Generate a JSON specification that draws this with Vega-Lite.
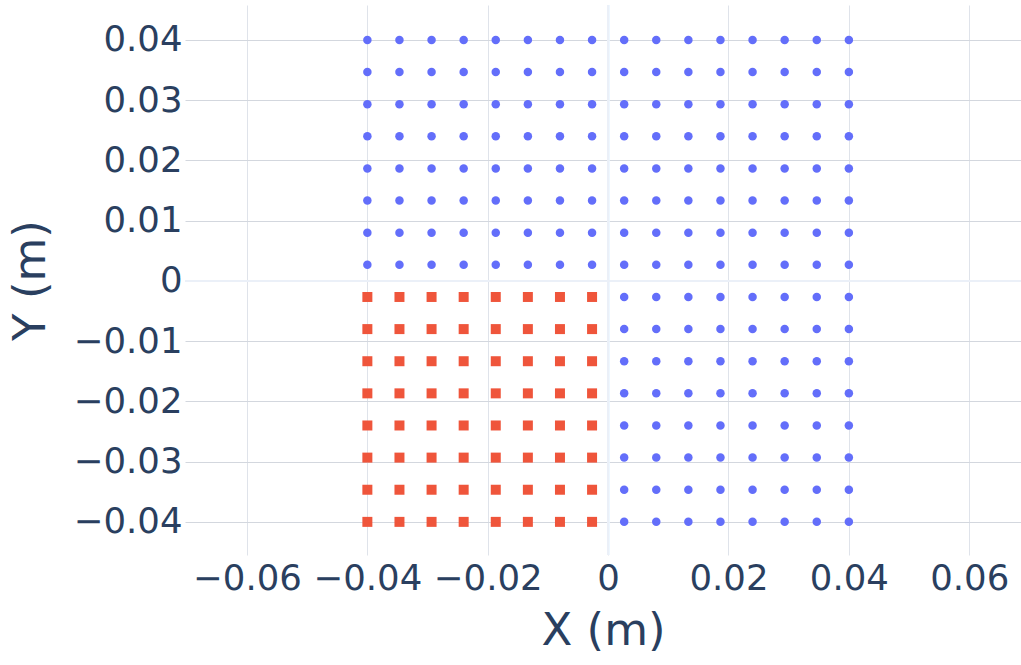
{
  "$schema": "https://vega.github.io/schema/vega-lite/v6.json",
  "width": 836,
  "height": 550,
  "autosize": {"type": "none"},
  "padding": {"left": 185, "top": 5, "right": 0, "bottom": 110},
  "background": "white",
  "config": {
    "view": {"stroke": null},
    "font": "DejaVu Sans",
    "axis": {
      "domain": false,
      "ticks": false,
      "grid": true,
      "gridWidth": 1,
      "labelFont": "DejaVu Sans",
      "labelFontSize": 35.5,
      "labelColor": "#2a3f5f",
      "titleFont": "DejaVu Sans",
      "titleFontSize": 45,
      "titleFontWeight": "normal",
      "titleColor": "#2a3f5f"
    }
  },
  "data": {
    "values": [
      {"x": -0.04, "y": 0.04, "g": "b"}, {"x": -0.034667, "y": 0.04, "g": "b"}, {"x": -0.029333, "y": 0.04, "g": "b"}, {"x": -0.024, "y": 0.04, "g": "b"}, {"x": -0.018667, "y": 0.04, "g": "b"}, {"x": -0.013333, "y": 0.04, "g": "b"}, {"x": -0.008, "y": 0.04, "g": "b"}, {"x": -0.002667, "y": 0.04, "g": "b"}, {"x": 0.002667, "y": 0.04, "g": "b"}, {"x": 0.008, "y": 0.04, "g": "b"}, {"x": 0.013333, "y": 0.04, "g": "b"}, {"x": 0.018667, "y": 0.04, "g": "b"}, {"x": 0.024, "y": 0.04, "g": "b"}, {"x": 0.029333, "y": 0.04, "g": "b"}, {"x": 0.034667, "y": 0.04, "g": "b"}, {"x": 0.04, "y": 0.04, "g": "b"},
      {"x": -0.04, "y": 0.034667, "g": "b"}, {"x": -0.034667, "y": 0.034667, "g": "b"}, {"x": -0.029333, "y": 0.034667, "g": "b"}, {"x": -0.024, "y": 0.034667, "g": "b"}, {"x": -0.018667, "y": 0.034667, "g": "b"}, {"x": -0.013333, "y": 0.034667, "g": "b"}, {"x": -0.008, "y": 0.034667, "g": "b"}, {"x": -0.002667, "y": 0.034667, "g": "b"}, {"x": 0.002667, "y": 0.034667, "g": "b"}, {"x": 0.008, "y": 0.034667, "g": "b"}, {"x": 0.013333, "y": 0.034667, "g": "b"}, {"x": 0.018667, "y": 0.034667, "g": "b"}, {"x": 0.024, "y": 0.034667, "g": "b"}, {"x": 0.029333, "y": 0.034667, "g": "b"}, {"x": 0.034667, "y": 0.034667, "g": "b"}, {"x": 0.04, "y": 0.034667, "g": "b"},
      {"x": -0.04, "y": 0.029333, "g": "b"}, {"x": -0.034667, "y": 0.029333, "g": "b"}, {"x": -0.029333, "y": 0.029333, "g": "b"}, {"x": -0.024, "y": 0.029333, "g": "b"}, {"x": -0.018667, "y": 0.029333, "g": "b"}, {"x": -0.013333, "y": 0.029333, "g": "b"}, {"x": -0.008, "y": 0.029333, "g": "b"}, {"x": -0.002667, "y": 0.029333, "g": "b"}, {"x": 0.002667, "y": 0.029333, "g": "b"}, {"x": 0.008, "y": 0.029333, "g": "b"}, {"x": 0.013333, "y": 0.029333, "g": "b"}, {"x": 0.018667, "y": 0.029333, "g": "b"}, {"x": 0.024, "y": 0.029333, "g": "b"}, {"x": 0.029333, "y": 0.029333, "g": "b"}, {"x": 0.034667, "y": 0.029333, "g": "b"}, {"x": 0.04, "y": 0.029333, "g": "b"},
      {"x": -0.04, "y": 0.024, "g": "b"}, {"x": -0.034667, "y": 0.024, "g": "b"}, {"x": -0.029333, "y": 0.024, "g": "b"}, {"x": -0.024, "y": 0.024, "g": "b"}, {"x": -0.018667, "y": 0.024, "g": "b"}, {"x": -0.013333, "y": 0.024, "g": "b"}, {"x": -0.008, "y": 0.024, "g": "b"}, {"x": -0.002667, "y": 0.024, "g": "b"}, {"x": 0.002667, "y": 0.024, "g": "b"}, {"x": 0.008, "y": 0.024, "g": "b"}, {"x": 0.013333, "y": 0.024, "g": "b"}, {"x": 0.018667, "y": 0.024, "g": "b"}, {"x": 0.024, "y": 0.024, "g": "b"}, {"x": 0.029333, "y": 0.024, "g": "b"}, {"x": 0.034667, "y": 0.024, "g": "b"}, {"x": 0.04, "y": 0.024, "g": "b"},
      {"x": -0.04, "y": 0.018667, "g": "b"}, {"x": -0.034667, "y": 0.018667, "g": "b"}, {"x": -0.029333, "y": 0.018667, "g": "b"}, {"x": -0.024, "y": 0.018667, "g": "b"}, {"x": -0.018667, "y": 0.018667, "g": "b"}, {"x": -0.013333, "y": 0.018667, "g": "b"}, {"x": -0.008, "y": 0.018667, "g": "b"}, {"x": -0.002667, "y": 0.018667, "g": "b"}, {"x": 0.002667, "y": 0.018667, "g": "b"}, {"x": 0.008, "y": 0.018667, "g": "b"}, {"x": 0.013333, "y": 0.018667, "g": "b"}, {"x": 0.018667, "y": 0.018667, "g": "b"}, {"x": 0.024, "y": 0.018667, "g": "b"}, {"x": 0.029333, "y": 0.018667, "g": "b"}, {"x": 0.034667, "y": 0.018667, "g": "b"}, {"x": 0.04, "y": 0.018667, "g": "b"},
      {"x": -0.04, "y": 0.013333, "g": "b"}, {"x": -0.034667, "y": 0.013333, "g": "b"}, {"x": -0.029333, "y": 0.013333, "g": "b"}, {"x": -0.024, "y": 0.013333, "g": "b"}, {"x": -0.018667, "y": 0.013333, "g": "b"}, {"x": -0.013333, "y": 0.013333, "g": "b"}, {"x": -0.008, "y": 0.013333, "g": "b"}, {"x": -0.002667, "y": 0.013333, "g": "b"}, {"x": 0.002667, "y": 0.013333, "g": "b"}, {"x": 0.008, "y": 0.013333, "g": "b"}, {"x": 0.013333, "y": 0.013333, "g": "b"}, {"x": 0.018667, "y": 0.013333, "g": "b"}, {"x": 0.024, "y": 0.013333, "g": "b"}, {"x": 0.029333, "y": 0.013333, "g": "b"}, {"x": 0.034667, "y": 0.013333, "g": "b"}, {"x": 0.04, "y": 0.013333, "g": "b"},
      {"x": -0.04, "y": 0.008, "g": "b"}, {"x": -0.034667, "y": 0.008, "g": "b"}, {"x": -0.029333, "y": 0.008, "g": "b"}, {"x": -0.024, "y": 0.008, "g": "b"}, {"x": -0.018667, "y": 0.008, "g": "b"}, {"x": -0.013333, "y": 0.008, "g": "b"}, {"x": -0.008, "y": 0.008, "g": "b"}, {"x": -0.002667, "y": 0.008, "g": "b"}, {"x": 0.002667, "y": 0.008, "g": "b"}, {"x": 0.008, "y": 0.008, "g": "b"}, {"x": 0.013333, "y": 0.008, "g": "b"}, {"x": 0.018667, "y": 0.008, "g": "b"}, {"x": 0.024, "y": 0.008, "g": "b"}, {"x": 0.029333, "y": 0.008, "g": "b"}, {"x": 0.034667, "y": 0.008, "g": "b"}, {"x": 0.04, "y": 0.008, "g": "b"},
      {"x": -0.04, "y": 0.002667, "g": "b"}, {"x": -0.034667, "y": 0.002667, "g": "b"}, {"x": -0.029333, "y": 0.002667, "g": "b"}, {"x": -0.024, "y": 0.002667, "g": "b"}, {"x": -0.018667, "y": 0.002667, "g": "b"}, {"x": -0.013333, "y": 0.002667, "g": "b"}, {"x": -0.008, "y": 0.002667, "g": "b"}, {"x": -0.002667, "y": 0.002667, "g": "b"}, {"x": 0.002667, "y": 0.002667, "g": "b"}, {"x": 0.008, "y": 0.002667, "g": "b"}, {"x": 0.013333, "y": 0.002667, "g": "b"}, {"x": 0.018667, "y": 0.002667, "g": "b"}, {"x": 0.024, "y": 0.002667, "g": "b"}, {"x": 0.029333, "y": 0.002667, "g": "b"}, {"x": 0.034667, "y": 0.002667, "g": "b"}, {"x": 0.04, "y": 0.002667, "g": "b"},
      {"x": -0.04, "y": -0.002667, "g": "r"}, {"x": -0.034667, "y": -0.002667, "g": "r"}, {"x": -0.029333, "y": -0.002667, "g": "r"}, {"x": -0.024, "y": -0.002667, "g": "r"}, {"x": -0.018667, "y": -0.002667, "g": "r"}, {"x": -0.013333, "y": -0.002667, "g": "r"}, {"x": -0.008, "y": -0.002667, "g": "r"}, {"x": -0.002667, "y": -0.002667, "g": "r"}, {"x": 0.002667, "y": -0.002667, "g": "b"}, {"x": 0.008, "y": -0.002667, "g": "b"}, {"x": 0.013333, "y": -0.002667, "g": "b"}, {"x": 0.018667, "y": -0.002667, "g": "b"}, {"x": 0.024, "y": -0.002667, "g": "b"}, {"x": 0.029333, "y": -0.002667, "g": "b"}, {"x": 0.034667, "y": -0.002667, "g": "b"}, {"x": 0.04, "y": -0.002667, "g": "b"},
      {"x": -0.04, "y": -0.008, "g": "r"}, {"x": -0.034667, "y": -0.008, "g": "r"}, {"x": -0.029333, "y": -0.008, "g": "r"}, {"x": -0.024, "y": -0.008, "g": "r"}, {"x": -0.018667, "y": -0.008, "g": "r"}, {"x": -0.013333, "y": -0.008, "g": "r"}, {"x": -0.008, "y": -0.008, "g": "r"}, {"x": -0.002667, "y": -0.008, "g": "r"}, {"x": 0.002667, "y": -0.008, "g": "b"}, {"x": 0.008, "y": -0.008, "g": "b"}, {"x": 0.013333, "y": -0.008, "g": "b"}, {"x": 0.018667, "y": -0.008, "g": "b"}, {"x": 0.024, "y": -0.008, "g": "b"}, {"x": 0.029333, "y": -0.008, "g": "b"}, {"x": 0.034667, "y": -0.008, "g": "b"}, {"x": 0.04, "y": -0.008, "g": "b"},
      {"x": -0.04, "y": -0.013333, "g": "r"}, {"x": -0.034667, "y": -0.013333, "g": "r"}, {"x": -0.029333, "y": -0.013333, "g": "r"}, {"x": -0.024, "y": -0.013333, "g": "r"}, {"x": -0.018667, "y": -0.013333, "g": "r"}, {"x": -0.013333, "y": -0.013333, "g": "r"}, {"x": -0.008, "y": -0.013333, "g": "r"}, {"x": -0.002667, "y": -0.013333, "g": "r"}, {"x": 0.002667, "y": -0.013333, "g": "b"}, {"x": 0.008, "y": -0.013333, "g": "b"}, {"x": 0.013333, "y": -0.013333, "g": "b"}, {"x": 0.018667, "y": -0.013333, "g": "b"}, {"x": 0.024, "y": -0.013333, "g": "b"}, {"x": 0.029333, "y": -0.013333, "g": "b"}, {"x": 0.034667, "y": -0.013333, "g": "b"}, {"x": 0.04, "y": -0.013333, "g": "b"},
      {"x": -0.04, "y": -0.018667, "g": "r"}, {"x": -0.034667, "y": -0.018667, "g": "r"}, {"x": -0.029333, "y": -0.018667, "g": "r"}, {"x": -0.024, "y": -0.018667, "g": "r"}, {"x": -0.018667, "y": -0.018667, "g": "r"}, {"x": -0.013333, "y": -0.018667, "g": "r"}, {"x": -0.008, "y": -0.018667, "g": "r"}, {"x": -0.002667, "y": -0.018667, "g": "r"}, {"x": 0.002667, "y": -0.018667, "g": "b"}, {"x": 0.008, "y": -0.018667, "g": "b"}, {"x": 0.013333, "y": -0.018667, "g": "b"}, {"x": 0.018667, "y": -0.018667, "g": "b"}, {"x": 0.024, "y": -0.018667, "g": "b"}, {"x": 0.029333, "y": -0.018667, "g": "b"}, {"x": 0.034667, "y": -0.018667, "g": "b"}, {"x": 0.04, "y": -0.018667, "g": "b"},
      {"x": -0.04, "y": -0.024, "g": "r"}, {"x": -0.034667, "y": -0.024, "g": "r"}, {"x": -0.029333, "y": -0.024, "g": "r"}, {"x": -0.024, "y": -0.024, "g": "r"}, {"x": -0.018667, "y": -0.024, "g": "r"}, {"x": -0.013333, "y": -0.024, "g": "r"}, {"x": -0.008, "y": -0.024, "g": "r"}, {"x": -0.002667, "y": -0.024, "g": "r"}, {"x": 0.002667, "y": -0.024, "g": "b"}, {"x": 0.008, "y": -0.024, "g": "b"}, {"x": 0.013333, "y": -0.024, "g": "b"}, {"x": 0.018667, "y": -0.024, "g": "b"}, {"x": 0.024, "y": -0.024, "g": "b"}, {"x": 0.029333, "y": -0.024, "g": "b"}, {"x": 0.034667, "y": -0.024, "g": "b"}, {"x": 0.04, "y": -0.024, "g": "b"},
      {"x": -0.04, "y": -0.029333, "g": "r"}, {"x": -0.034667, "y": -0.029333, "g": "r"}, {"x": -0.029333, "y": -0.029333, "g": "r"}, {"x": -0.024, "y": -0.029333, "g": "r"}, {"x": -0.018667, "y": -0.029333, "g": "r"}, {"x": -0.013333, "y": -0.029333, "g": "r"}, {"x": -0.008, "y": -0.029333, "g": "r"}, {"x": -0.002667, "y": -0.029333, "g": "r"}, {"x": 0.002667, "y": -0.029333, "g": "b"}, {"x": 0.008, "y": -0.029333, "g": "b"}, {"x": 0.013333, "y": -0.029333, "g": "b"}, {"x": 0.018667, "y": -0.029333, "g": "b"}, {"x": 0.024, "y": -0.029333, "g": "b"}, {"x": 0.029333, "y": -0.029333, "g": "b"}, {"x": 0.034667, "y": -0.029333, "g": "b"}, {"x": 0.04, "y": -0.029333, "g": "b"},
      {"x": -0.04, "y": -0.034667, "g": "r"}, {"x": -0.034667, "y": -0.034667, "g": "r"}, {"x": -0.029333, "y": -0.034667, "g": "r"}, {"x": -0.024, "y": -0.034667, "g": "r"}, {"x": -0.018667, "y": -0.034667, "g": "r"}, {"x": -0.013333, "y": -0.034667, "g": "r"}, {"x": -0.008, "y": -0.034667, "g": "r"}, {"x": -0.002667, "y": -0.034667, "g": "r"}, {"x": 0.002667, "y": -0.034667, "g": "b"}, {"x": 0.008, "y": -0.034667, "g": "b"}, {"x": 0.013333, "y": -0.034667, "g": "b"}, {"x": 0.018667, "y": -0.034667, "g": "b"}, {"x": 0.024, "y": -0.034667, "g": "b"}, {"x": 0.029333, "y": -0.034667, "g": "b"}, {"x": 0.034667, "y": -0.034667, "g": "b"}, {"x": 0.04, "y": -0.034667, "g": "b"},
      {"x": -0.04, "y": -0.04, "g": "r"}, {"x": -0.034667, "y": -0.04, "g": "r"}, {"x": -0.029333, "y": -0.04, "g": "r"}, {"x": -0.024, "y": -0.04, "g": "r"}, {"x": -0.018667, "y": -0.04, "g": "r"}, {"x": -0.013333, "y": -0.04, "g": "r"}, {"x": -0.008, "y": -0.04, "g": "r"}, {"x": -0.002667, "y": -0.04, "g": "r"}, {"x": 0.002667, "y": -0.04, "g": "b"}, {"x": 0.008, "y": -0.04, "g": "b"}, {"x": 0.013333, "y": -0.04, "g": "b"}, {"x": 0.018667, "y": -0.04, "g": "b"}, {"x": 0.024, "y": -0.04, "g": "b"}, {"x": 0.029333, "y": -0.04, "g": "b"}, {"x": 0.034667, "y": -0.04, "g": "b"}, {"x": 0.04, "y": -0.04, "g": "b"}
    ]
  },
  "layer": [
    {
      "mark": {"type": "rule", "color": "#EBF0F8", "strokeWidth": 2},
      "encoding": {"x": {"datum": 0, "type": "quantitative"}}
    },
    {
      "mark": {"type": "rule", "color": "#EBF0F8", "strokeWidth": 2},
      "encoding": {"y": {"datum": 0, "type": "quantitative"}}
    },
    {
      "mark": {"type": "point", "filled": true, "opacity": 1, "strokeWidth": 0},
      "encoding": {
        "x": {
          "field": "x", "type": "quantitative",
          "scale": {"domain": [-0.0703, 0.0686], "nice": false, "zero": false},
          "axis": {"values": [-0.06, -0.04, -0.02, 0, 0.02, 0.04, 0.06], "format": "~g", "labelPadding": 6, "titlePadding": 12, "labelFlush": false, "gridColor": "#DFE3EA"},
          "title": "X (m)"
        },
        "y": {
          "field": "y", "type": "quantitative",
          "scale": {"domain": [-0.0455, 0.0458], "nice": false, "zero": false},
          "axis": {"values": [-0.04, -0.03, -0.02, -0.01, 0, 0.01, 0.02, 0.03, 0.04], "format": "~g", "labelPadding": 3, "titlePadding": 20, "labelFlush": false, "gridColor": "#D3D7DE"},
          "title": "Y (m)"
        },
        "color": {"field": "g", "type": "nominal", "scale": {"domain": ["b", "r"], "range": ["#636EFA", "#EF553B"]}, "legend": null},
        "shape": {"field": "g", "type": "nominal", "scale": {"domain": ["b", "r"], "range": ["circle", "square"]}, "legend": null},
        "size": {"field": "g", "type": "nominal", "scale": {"domain": ["b", "r"], "range": [72, 100]}, "legend": null}
      }
    }
  ]
}
